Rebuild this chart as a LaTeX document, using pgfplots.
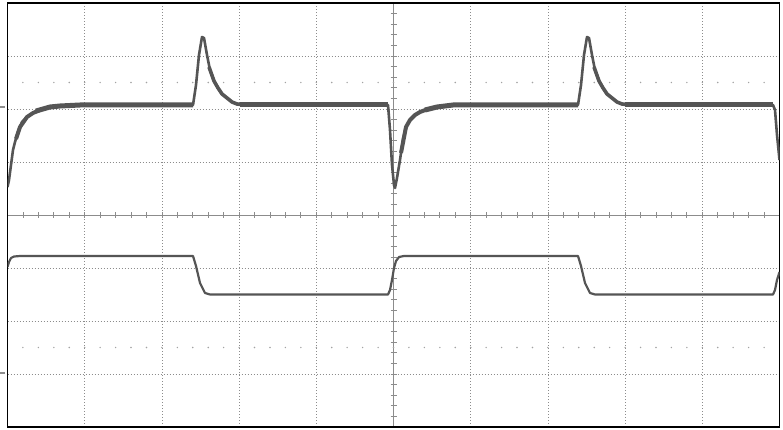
\documentclass[border=0pt]{standalone}
\usepackage{pgfplots}
\pgfplotsset{compat=1.18}
\definecolor{trace}{HTML}{555555}
\definecolor{grat}{HTML}{8C8C8C}
\begin{document}
\begin{tikzpicture}
\begin{scope}[x=1pt,y=1pt]
\path[use as bounding box] (0,0) rectangle (783,430);
\fill[white] (0,0) rectangle (783,430);
\foreach \gx in {84.7,161.9,239.1,316.3,470.7,547.9,625.1,702.3}
  \draw[grat,line width=0.8pt,dash pattern=on 0.8pt off 2.2pt] (\gx,3)--(\gx,427);
\foreach \gy in {56,109,162,268,321,374}
  \draw[grat,line width=0.8pt,dash pattern=on 0.8pt off 2.2pt] (7.5,\gy)--(779.5,\gy);
\draw[grat,line width=0.9pt] (7.5,215)--(779.5,215);
\draw[grat,line width=0.9pt] (393.5,3)--(393.5,427);
\foreach \i in {1,...,49}
  \draw[grat,line width=0.8pt] ({7.5+15.44*\i},212)--({7.5+15.44*\i},218);
\foreach \i in {1,...,39}
  \draw[grat,line width=0.8pt] (390.5,{3+10.6*\i})--(396.5,{3+10.6*\i});
\foreach \i in {1,...,49}{
  \fill[grat!80] ({7.5+15.44*\i},347.5) circle (0.8);
  \fill[grat!80] ({7.5+15.44*\i},82.5) circle (0.8);
}
\draw[grat,line width=2pt] (0,323)--(5,323);
\draw[grat,line width=2pt] (0,57)--(5,57);
\end{scope}
\begin{axis}[at={(7.5pt,3pt)},anchor=south west,scale only axis,
  width=772pt,height=424pt,
  xmin=7.5,xmax=779.5,ymin=3,ymax=427,y dir=reverse,
  ticks=none,axis line style={black,line width=1.6pt}]
% channel 1
\addplot[trace,line width=2.6pt,line join=round] coordinates {
(7.5,187)(9,180)(11,165)(13,150)(15,142)(18,132)(22,122)(27,117)(33,113)(40,110)(50,107)(60,106)(80,105)
(193,105)(196,85)(199,55)(202,37)(204,38)(207,55)(210,70)(214,81)(218,88)(222,94)(227,98)(232,102)(237,104)(245,105)
(388,105)(390,130)(392,165)(394,185)(395,188)(397,178)(400,160)(403,139)(406,127)(410,120)(415,115)(420,112)(428,109)(437,107)(453,105)
(578,105)(581,85)(584,55)(587,37)(589,38)(592,55)(595,70)(599,81)(603,88)(607,94)(612,98)(617,102)(622,104)(630,105)
(773,105)(775,110)(777,135)(779.5,160)
};
\addplot[trace,line width=4pt,line join=round] coordinates {(16,139)(20,127)(27,117)(33,113)(40,110)};
\addplot[trace,line width=5pt] coordinates {(36,111)(50,107)(60,106)(80,105)(193,105)};
\addplot[trace,line width=3.6pt,line join=round] coordinates {(209,67)(214,81)(218,88)(222,94)(227,98)(232,102)(237,104)(245,105)};
\addplot[trace,line width=5pt] coordinates {(240,105)(388,105)};
\addplot[trace,line width=4pt,line join=round] coordinates {(401,153)(406,127)(410,120)(415,115)(420,112)(428,109)};
\addplot[trace,line width=5pt] coordinates {(425,110)(437,107)(453,105)(578,105)};
\addplot[trace,line width=3.6pt,line join=round] coordinates {(594,67)(599,81)(603,88)(607,94)(612,98)(617,102)(622,104)(630,105)};
\addplot[trace,line width=5pt] coordinates {(625,105)(773,105)};
% channel 2
\addplot[trace,line width=2.2pt,line join=round] coordinates {
(7.5,267)(9,262)(11,258)(14,256.5)(20,256)(193,256)(196,266)(200,283)(205,293)(210,294.5)
(388,294.5)(390,290)(392,280)(394,268)(396,261)(399,257)(404,256)
(578,256)(581,266)(585,283)(590,293)(595,294.5)
(773,294.5)(775,290)(777,280)(779.5,272)
};
\end{axis}
\end{tikzpicture}
\end{document}
